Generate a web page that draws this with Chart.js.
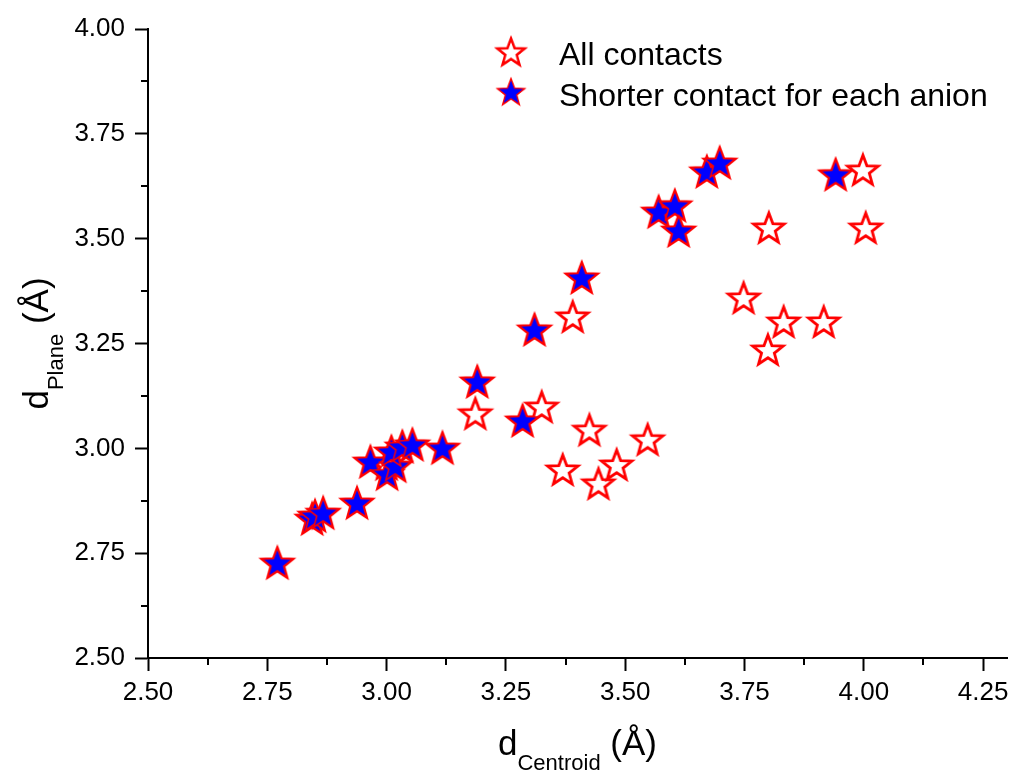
<!DOCTYPE html>
<html lang="en">
    <head>
        <meta charset="UTF-8">
        <title>dPlane vs dCentroid</title>
        <style>
            html, body { margin: 0; padding: 0; background: #fff; overflow: hidden; }
            canvas { display: block; }
        </style>
    </head>
    <body>
        <canvas id="contacts" width="1017" height="775"></canvas>
    </body>

    <script src="https://cdn.jsdelivr.net/npm/chart.js@4.4.1/dist/chart.umd.min.js"></script>

    <script>
        // shorter contact for each anion (filled blue stars)
        const shortX = [2.771, 2.844, 2.850, 2.867, 2.938, 2.966, 3.001, 3.018, 3.010, 3.033, 3.054, 3.117,
                        3.190, 3.285, 3.310, 3.409, 3.570, 3.604, 3.612, 3.671, 3.698, 3.941];
        const shortY = [2.724, 2.829, 2.836, 2.843, 2.867, 2.965, 2.936, 2.955, 2.989, 3.001, 3.006, 2.998,
                        3.156, 3.063, 3.280, 3.404, 3.561, 3.576, 3.516, 3.657, 3.678, 3.650];
        // remaining contacts (open red stars)
        const otherX = [3.000, 3.186, 3.325, 3.369, 3.390, 3.425, 3.444, 3.482, 3.547, 3.748, 3.799, 3.801,
                        3.832, 3.916, 3.998, 4.004];
        const otherY = [2.960, 3.080, 3.096, 2.946, 3.311, 3.041, 2.913, 2.958, 3.018, 3.356, 3.232, 3.523,
                        3.299, 3.299, 3.661, 3.523];

        const legendLabels = ["All contacts", "Shorter contact for each anion"];
        const xTitle = ["d", "Centroid", " (Å)"];
        const yTitle = ["d", "Plane", " (Å)"];

        const FONT = "'Liberation Sans', Arial, sans-serif";

        function makeStar(fill, stroke, lw) {
            const c = document.createElement("canvas");
            c.width = 40; c.height = 40;
            const g = c.getContext("2d");
            const R = 16, r = R * 0.42, cx = 20, cy = 20;
            g.beginPath();
            for (let i = 0; i < 10; i++) {
                const rad = i % 2 === 0 ? R : r;
                const a = -Math.PI / 2 + i * Math.PI / 5;
                const px = cx + rad * Math.cos(a), py = cy + rad * Math.sin(a);
                if (i === 0) g.moveTo(px, py); else g.lineTo(px, py);
            }
            g.closePath();
            g.fillStyle = fill;
            g.fill();
            g.lineJoin = "miter";
            g.lineWidth = lw;
            g.strokeStyle = stroke;
            g.stroke();
            return c;
        }
        const openStar = makeStar("#ffffff", "#ff0000", 2.8);
        const fullStar = makeStar("#0000ff", "#ff0000", 1.5);

        const toPoints = (xs, ys) => xs.map((x, i) => ({ x: x, y: ys[i] }));
        const allPoints = toPoints(shortX, shortY).concat(toPoints(otherX, otherY));

        function drawTitle(ctx, parts, x, y, rotate) {
            ctx.save();
            ctx.translate(x, y);
            if (rotate) ctx.rotate(-Math.PI / 2);
            ctx.fillStyle = "#000";
            ctx.textBaseline = "alphabetic";
            const big = "35px " + FONT, small = "22px " + FONT;
            ctx.font = big; const w0 = ctx.measureText(parts[0]).width;
            ctx.font = small; const w1 = ctx.measureText(parts[1]).width;
            ctx.font = big; const w2 = ctx.measureText(parts[2]).width;
            let cx = -(w0 + w1 + w2) / 2;
            ctx.textAlign = "left";
            ctx.font = big; ctx.fillText(parts[0], cx, 0); cx += w0;
            ctx.font = small; ctx.fillText(parts[1], cx, 15); cx += w1;
            ctx.font = big; ctx.fillText(parts[2], cx, 0);
            ctx.restore();
        }

        const extras = {
            id: "extras",
            afterDraw(chart) {
                const ctx = chart.ctx;
                const xs = chart.scales.x, ys = chart.scales.y;
                const area = chart.chartArea;
                // minor ticks
                ctx.save();
                ctx.strokeStyle = "#000";
                ctx.lineWidth = 2;
                ctx.beginPath();
                for (let v = 2.625; v < 4.3; v += 0.25) {
                    const px = Math.round(xs.getPixelForValue(v));
                    ctx.moveTo(px, area.bottom);
                    ctx.lineTo(px, area.bottom + 7);
                }
                for (let v = 2.625; v < 4.0; v += 0.25) {
                    const py = Math.round(ys.getPixelForValue(v));
                    ctx.moveTo(area.left, py);
                    ctx.lineTo(area.left - 7, py);
                }
                ctx.stroke();
                ctx.restore();

                // axis titles
                drawTitle(ctx, xTitle, (area.left + area.right) / 2, 755, false);
                drawTitle(ctx, yTitle, 48, (area.top + area.bottom) / 2, true);

                // legend
                ctx.save();
                ctx.font = "32px " + FONT;
                ctx.fillStyle = "#000";
                ctx.textBaseline = "alphabetic";
                const icons = [openStar, fullStar];
                const rows = [{ cy: 53, base: 65 }, { cy: 93, base: 106 }];
                rows.forEach((row, i) => {
                    ctx.drawImage(icons[i], 511 - 18, row.cy - 18, 36, 36);
                    ctx.fillText(legendLabels[i], 559, row.base);
                });
                ctx.restore();
            }
        };

        const ctx = document.getElementById("contacts").getContext("2d");
        const chart = new Chart(ctx, {
            type: "scatter",
            data: {
                datasets: [
                    { label: legendLabels[0], data: allPoints, pointStyle: openStar, order: 1 },
                    { label: legendLabels[1], data: toPoints(shortX, shortY), pointStyle: fullStar, order: 0 },
                ],
            },
            options: {
                responsive: false,
                animation: false,
                events: [],
                layout: { padding: { top: 29, right: 10, left: 0, bottom: 0 } },
                plugins: {
                    legend: { display: false },
                    tooltip: { enabled: false },
                },
                scales: {
                    x: {
                        type: "linear",
                        min: 2.5,
                        max: 4.3,
                        border: { color: "#000", width: 2 },
                        grid: { drawOnChartArea: false, tickLength: 13, tickWidth: 2, tickColor: "#000" },
                        ticks: {
                            stepSize: 0.25,
                            includeBounds: false,
                            padding: 6,
                            color: "#000",
                            font: { family: FONT, size: 26 },
                            callback: v => v.toFixed(2),
                        },
                        afterFit: s => { s.height = 117; },
                    },
                    y: {
                        type: "linear",
                        min: 2.5,
                        max: 4.0,
                        border: { color: "#000", width: 2 },
                        grid: { drawOnChartArea: false, tickLength: 13, tickWidth: 2, tickColor: "#000" },
                        ticks: {
                            stepSize: 0.25,
                            padding: 10,
                            color: "#000",
                            font: { family: FONT, size: 26 },
                            callback: v => v.toFixed(2),
                        },
                        afterFit: s => { s.width = 148; },
                    },
                },
            },
            plugins: [extras],
        });
    </script>
</html>
